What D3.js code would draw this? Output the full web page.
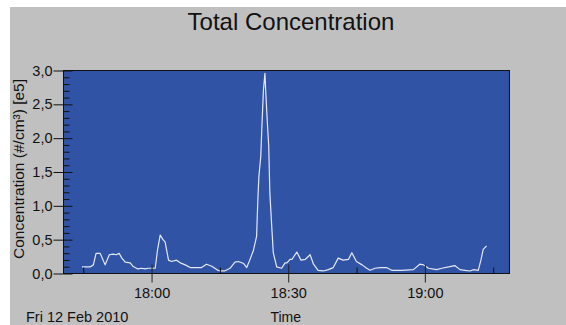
<!DOCTYPE html>
<html>
<head>
<meta charset="utf-8">
<script src="https://cdn.jsdelivr.net/npm/d3@7"></script>
<style>
  html, body { margin: 0; padding: 0; background: #fff; }
  svg { display: block; }
  text { font-family: "Liberation Sans", Arial, sans-serif; fill: #111; }
</style>
</head>
<body>
<div id="chart"></div>
<script>
// samples (time of day, concentration in e5 #/cm3)
const times = [
  "17:44:50", "17:46:35", "17:47:20", "17:47:55", "17:48:50", "17:49:55", "17:50:50", "17:51:40",
  "17:52:20", "17:53:00", "17:53:35", "17:54:20", "17:55:25", "17:56:00", "17:57:05", "17:58:00",
  "17:58:40", "17:59:20", "18:00:55", "18:01:25", "18:02:00", "18:02:40", "18:03:05", "18:03:50",
  "18:04:30", "18:05:35", "18:06:25", "18:07:30", "18:08:35", "18:10:00", "18:11:05", "18:12:10",
  "18:13:20", "18:14:25", "18:15:05", "18:16:10", "18:17:20", "18:18:25", "18:19:10", "18:20:20",
  "18:21:00", "18:21:40", "18:22:30", "18:23:10", "18:23:25", "18:23:40", "18:24:05", "18:24:20",
  "18:24:40", "18:25:00", "18:25:10", "18:25:30", "18:25:50", "18:26:05", "18:26:30", "18:26:50",
  "18:27:35", "18:28:40", "18:29:25", "18:29:50", "18:30:30", "18:30:55", "18:32:00", "18:32:55",
  "18:33:50", "18:34:55", "18:35:40", "18:36:40", "18:37:50", "18:38:55", "18:40:00", "18:41:05",
  "18:42:10", "18:43:20", "18:44:05", "18:45:05", "18:46:20", "18:47:20", "18:48:05", "18:49:10",
  "18:50:20", "18:51:40", "18:52:50", "18:55:00", "18:57:35", "18:59:00", "18:59:50", "19:00:55",
  "19:02:40", "19:03:50", "19:05:20", "19:06:40", "19:07:50", "19:08:55", "19:10:00", "19:10:50",
  "19:11:50", "19:12:25", "19:12:55", "19:13:40"
];
const values = [
  0.09, 0.09, 0.12, 0.29, 0.29, 0.12, 0.27, 0.28,
  0.27, 0.29, 0.22, 0.16, 0.15, 0.10, 0.06, 0.07,
  0.06, 0.07, 0.07, 0.34, 0.56, 0.49, 0.46, 0.19,
  0.17, 0.19, 0.15, 0.12, 0.08, 0.08, 0.08, 0.13,
  0.10, 0.05, 0.03, 0.03, 0.07, 0.16, 0.17, 0.14,
  0.08, 0.19, 0.34, 0.54, 1.03, 1.42, 1.72, 2.16,
  2.70, 2.95, 2.70, 2.26, 1.87, 1.18, 0.68, 0.30,
  0.09, 0.07, 0.15, 0.15, 0.20, 0.20, 0.31, 0.19,
  0.20, 0.27, 0.13, 0.04, 0.03, 0.05, 0.08, 0.22,
  0.19, 0.20, 0.30, 0.17, 0.12, 0.07, 0.04, 0.07,
  0.08, 0.08, 0.04, 0.04, 0.05, 0.13, 0.12, 0.07,
  0.05, 0.07, 0.09, 0.11, 0.05, 0.04, 0.03, 0.05,
  0.04, 0.19, 0.35, 0.40
];
const day = "2010-02-12";
const timeDomain = ["17:40:40", "19:18:35"];
const majorTimes = ["18:00:00", "18:30:00", "19:00:00"];
const minorTimes = ["17:45:00", "18:15:00", "18:45:00", "19:15:00"];
const yMajor = [0, 0.5, 1.0, 1.5, 2.0, 2.5, 3.0];
const yMinorStep = 0.1;

const title = "Total Concentration";
const yLabel = "Concentration (#/cm\u00B3) [e5]";
const xLabel = "Time";
const dateLabel = "Fri 12 Feb 2010";

const width = 566, height = 325;
const margin = {top: 70, right: 57, bottom: 52, left: 63};
const plotW = width - margin.left - margin.right;
const plotH = height - margin.top - margin.bottom;

const parse = d3.timeParse("%Y-%m-%d %H:%M:%S");
const toDate = t => parse(day + " " + t);
const data = times.map((t, i) => ({t: toDate(t), v: values[i]}));

const commaFmt = d3.formatLocale({decimal: ",", thousands: ".", grouping: [3], currency: ["", ""]}).format(".1f");

const svg = d3.select("#chart").append("svg")
    .attr("width", width)
    .attr("height", height);

// grey panel with white strip top/left
svg.append("rect")
    .attr("x", 10).attr("y", 7)
    .attr("width", width - 10).attr("height", height - 7)
    .attr("fill", "#c0c0c0");

const x = d3.scaleTime()
    .domain(timeDomain.map(toDate))
    .range([margin.left, margin.left + plotW]);

const y = d3.scaleLinear()
    .domain([0, 3])
    .range([margin.top + plotH, margin.top]);

// plot background
svg.append("rect")
    .attr("x", margin.left).attr("y", margin.top)
    .attr("width", plotW).attr("height", plotH)
    .attr("fill", "#3153a5");

// data line
const line = d3.line()
    .x(d => x(d.t))
    .y(d => y(d.v));

svg.append("path")
    .datum(data)
    .attr("d", line)
    .attr("fill", "none")
    .attr("stroke", "#e4e9f6")
    .attr("stroke-width", 1.2)
    .attr("stroke-linejoin", "round");

// plot frame
svg.append("rect")
    .attr("x", margin.left + 0.5).attr("y", margin.top + 0.5)
    .attr("width", plotW).attr("height", plotH)
    .attr("fill", "none")
    .attr("stroke", "#111")
    .attr("stroke-width", 1);

// y axis: labels + outside major ticks
const yAxis = svg.append("g")
    .attr("transform", `translate(${margin.left + 0.5},0.5)`)
    .call(d3.axisLeft(y).tickValues(yMajor).tickSize(10).tickPadding(1).tickFormat(commaFmt));
yAxis.select(".domain").remove();
yAxis.selectAll("text").attr("font-size", 14.5).attr("fill", "#111")
    .style("font-family", "'Liberation Sans', Arial, sans-serif");
yAxis.selectAll("line").attr("stroke", "#111");

// y axis: inner ticks
const yMinor = d3.range(0, 3.0001, yMinorStep);
const yInner = svg.append("g")
    .attr("transform", `translate(${margin.left + 0.5},0.5)`)
    .call(d3.axisRight(y).tickValues(yMinor).tickSize(7).tickFormat(""));
yInner.select(".domain").remove();
yInner.selectAll("line")
    .attr("stroke", "#111")
    .attr("x2", d => (Math.abs(d * 2 - Math.round(d * 2)) < 1e-6 ? 9 : 6));

// x axis: major ticks with labels (outside)
const xAxis = svg.append("g")
    .attr("transform", `translate(0.5,${margin.top + plotH + 0.5})`)
    .call(d3.axisBottom(x).tickValues(majorTimes.map(toDate)).tickSize(9).tickPadding(5)
        .tickFormat(d3.timeFormat("%H:%M")));
xAxis.select(".domain").remove();
xAxis.selectAll("text").attr("font-size", 14.5).attr("fill", "#111")
    .style("font-family", "'Liberation Sans', Arial, sans-serif");
xAxis.selectAll("line").attr("stroke", "#222").attr("y1", -9);

// x axis: minor ticks inside
const xInner = svg.append("g")
    .attr("transform", `translate(0.5,${margin.top + plotH + 0.5})`)
    .call(d3.axisTop(x).tickValues(minorTimes.map(toDate)).tickSize(6).tickFormat(""));
xInner.select(".domain").remove();
xInner.selectAll("line").attr("stroke", "#111");

// title
svg.append("text")
    .attr("x", 291).attr("y", 30)
    .attr("text-anchor", "middle")
    .attr("font-size", 24)
    .text(title);

// y label
svg.append("text")
    .attr("transform", `translate(24,169) rotate(-90)`)
    .attr("text-anchor", "middle")
    .attr("font-size", 15.5)
    .text(yLabel);

// x label and date
svg.append("text")
    .attr("x", x(toDate("18:30:00")) - 2).attr("y", 322)
    .attr("text-anchor", "middle")
    .attr("font-size", 14)
    .text(xLabel);

svg.append("text")
    .attr("x", 26).attr("y", 322)
    .attr("font-size", 14.5)
    .text(dateLabel);
</script>
</body>
</html>
